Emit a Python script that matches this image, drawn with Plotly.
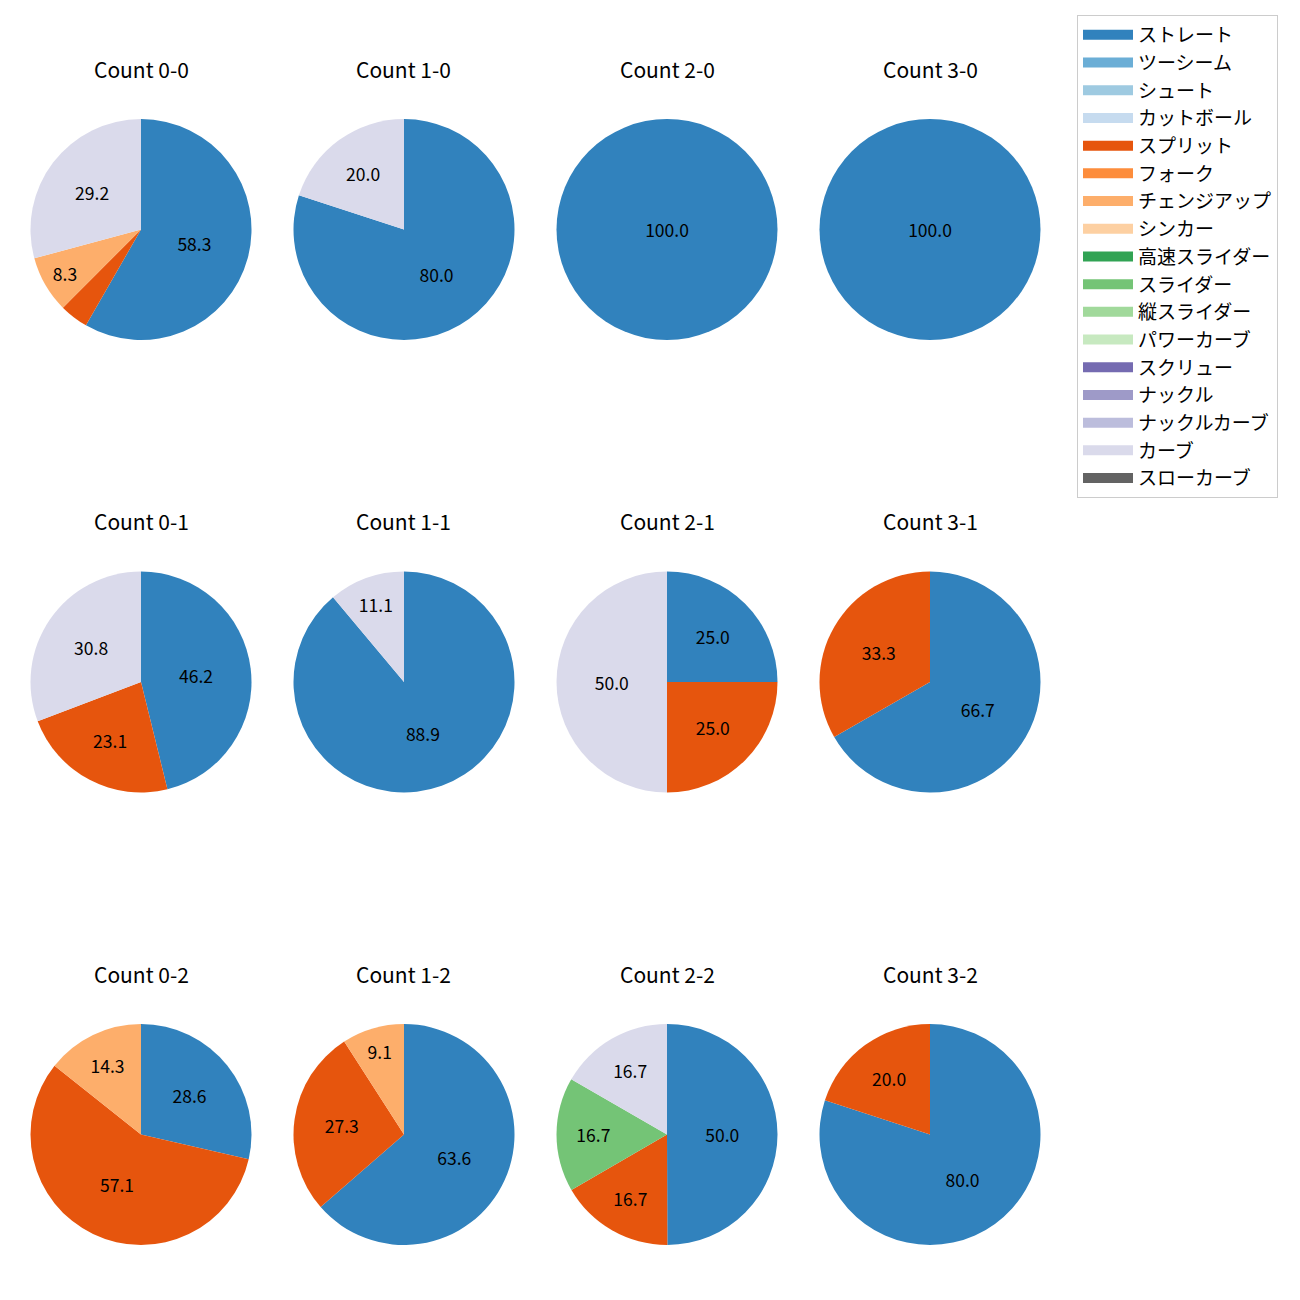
import plotly.graph_objects as go

W, H = 1300, 1300

pitch_types = ["ストレート", "ツーシーム", "シュート", "カットボール", "スプリット", "フォーク",
               "チェンジアップ", "シンカー", "高速スライダー", "スライダー", "縦スライダー",
               "パワーカーブ", "スクリュー", "ナックル", "ナックルカーブ", "カーブ", "スローカーブ"]
colors = ["#3182bd", "#6baed6", "#9ecae1", "#c6dbef", "#e6550d", "#fd8d3c", "#fdae6b", "#fdd0a2",
          "#31a354", "#74c476", "#a1d99b", "#c7e9c0", "#756bb1", "#9e9ac8", "#bcbddc", "#dadaeb",
          "#636363"]

# percentages per count (balls-strikes), keyed by pitch type
count_0_0 = {"ストレート": 58.3, "スプリット": 4.2, "チェンジアップ": 8.3, "カーブ": 29.2}
count_1_0 = {"ストレート": 80.0, "カーブ": 20.0}
count_2_0 = {"ストレート": 100.0}
count_3_0 = {"ストレート": 100.0}
count_0_1 = {"ストレート": 46.2, "スプリット": 23.1, "カーブ": 30.8}
count_1_1 = {"ストレート": 88.9, "カーブ": 11.1}
count_2_1 = {"ストレート": 25.0, "スプリット": 25.0, "カーブ": 50.0}
count_3_1 = {"ストレート": 66.7, "スプリット": 33.3}
count_0_2 = {"ストレート": 28.6, "スプリット": 57.1, "チェンジアップ": 14.3}
count_1_2 = {"ストレート": 63.6, "スプリット": 27.3, "チェンジアップ": 9.1}
count_2_2 = {"ストレート": 50.0, "スプリット": 16.7, "スライダー": 16.7, "カーブ": 16.7}
count_3_2 = {"ストレート": 80.0, "スプリット": 20.0}

grid = [
    [("Count 0-0", count_0_0), ("Count 1-0", count_1_0), ("Count 2-0", count_2_0), ("Count 3-0", count_3_0)],
    [("Count 0-1", count_0_1), ("Count 1-1", count_1_1), ("Count 2-1", count_2_1), ("Count 3-1", count_3_1)],
    [("Count 0-2", count_0_2), ("Count 1-2", count_1_2), ("Count 2-2", count_2_2), ("Count 3-2", count_3_2)],
]

col_cx = [141, 404, 667, 930]
row_cy = [229.5, 682, 1134.5]
R = 110.5
FONT = "Noto Sans CJK JP"

fig = go.Figure()
annotations = []
for r, row in enumerate(grid):
    for c, (title, data) in enumerate(row):
        labels = [p for p in pitch_types if p in data]
        vals = [data[p] for p in labels]
        cols = [colors[pitch_types.index(p)] for p in labels]
        total = sum(vals)
        texts = [f"{v / total * 100:.1f}" if v / total * 100 >= 5 else "" for v in vals]
        cx, cy = col_cx[c], row_cy[r]
        fig.add_trace(go.Pie(
            labels=labels, values=vals, text=texts, texttemplate="%{text}",
            textposition="inside", insidetextorientation="horizontal",
            textfont=dict(size=17.5, color="black", family=FONT),
            marker=dict(colors=cols, line=dict(width=0)),
            sort=False, direction="clockwise", rotation=0,
            showlegend=False, hoverinfo="label+percent",
            domain=dict(x=[(cx - R) / W, (cx + R) / W], y=[1 - (cy + R) / H, 1 - (cy - R) / H]),
        ))
        annotations.append(dict(
            text=title, x=cx / W, y=1 - (cy - 161) / H, xref="paper", yref="paper",
            showarrow=False, xanchor="center", yanchor="middle",
            font=dict(size=21, color="black", family=FONT),
        ))

# legend entries
for p, col in zip(pitch_types, colors):
    fig.add_trace(go.Scatter(
        x=[None], y=[None], mode="lines", name=p, legendgroup=p,
        line=dict(color=col, width=14), showlegend=True,
    ))

fig.update_layout(
    width=W, height=H,
    margin=dict(l=0, r=0, t=0, b=0),
    paper_bgcolor="white", plot_bgcolor="white",
    xaxis=dict(visible=False), yaxis=dict(visible=False),
    annotations=annotations,
    font=dict(family=FONT, color="black"),
    legend=dict(
        x=1077 / W, y=1 - 15 / H, xanchor="left", yanchor="top",
        bordercolor="#cccccc", borderwidth=1, bgcolor="white",
        font=dict(size=19, family=FONT, color="black"),
        tracegroupgap=0, traceorder="grouped", itemwidth=50,
    ),
)

fig.write_html("out.html")
